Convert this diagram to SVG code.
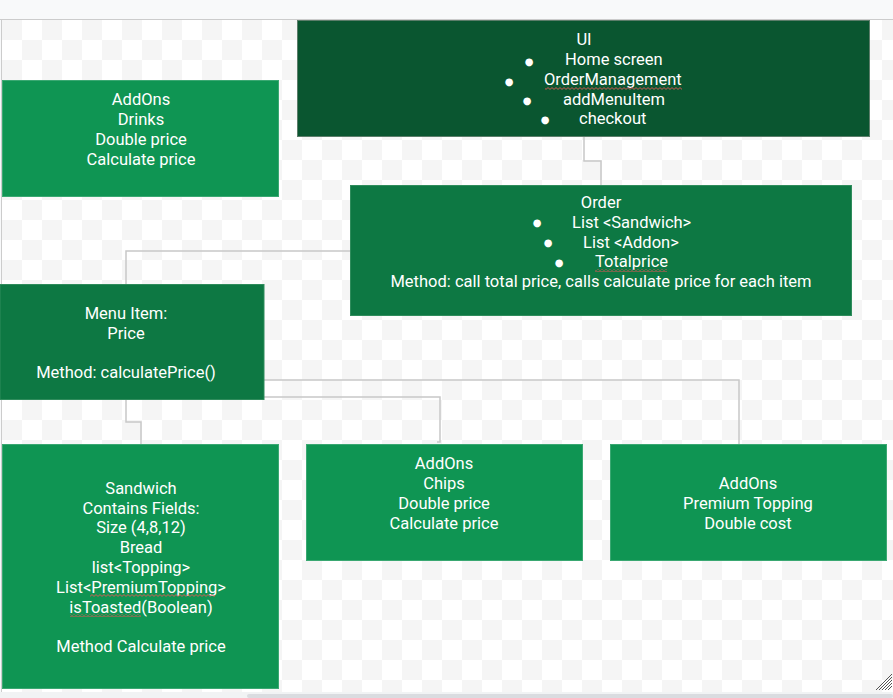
<svg xmlns="http://www.w3.org/2000/svg" width="893" height="698" viewBox="0 0 893 698">
<defs>
<pattern id="checker" x="2" y="20" width="40" height="40" patternUnits="userSpaceOnUse">
<rect width="40" height="40" fill="#ffffff"/>
<rect width="20" height="20" fill="#f5f5f5"/>
<rect x="20" y="20" width="20" height="20" fill="#f5f5f5"/>
</pattern>
<pattern id="wave" x="0" y="0" width="4" height="3" patternUnits="userSpaceOnUse">
<path d="M0,0.6 L2,2.4 L4,0.6" fill="none" stroke="#e05555" stroke-width="0.9"/>
</pattern>
</defs>
<style>
.t{font-family:Roboto,"Liberation Sans",sans-serif;font-size:16.5px;fill:#ffffff;text-anchor:middle}
.s{font-family:Roboto,"Liberation Sans",sans-serif;font-size:16.5px;fill:#ffffff}
.b{font-family:"DejaVu Sans",sans-serif;font-size:10px;fill:#ffffff;text-anchor:middle}
.light{fill:#0f9553;stroke:#3aa872;stroke-width:1}
.mid{fill:#0d7843;stroke:#2f8c5c;stroke-width:1}
.dark{fill:#0a5630;stroke:#5c7d6a;stroke-width:1}
.c{fill:none;stroke:#c8c8c8;stroke-width:1.5}
</style>
<rect width="893" height="698" fill="#f8f9fa"/>
<rect x="1" y="19" width="892" height="673" fill="url(#checker)"/>
<line x1="0" y1="19.5" x2="893" y2="19.5" stroke="#cccccc" stroke-width="1"/>
<line x1="1.5" y1="19" x2="1.5" y2="692" stroke="#cccccc" stroke-width="1"/>
<rect x="0" y="692" width="893" height="6" fill="#f1f3f4"/>
<rect x="247" y="694" width="646" height="4" rx="2" fill="#dadce0"/>

<g id="connectors">
<path class="c" d="M584,137 V161 H601 V185"/>
<path class="c" d="M350,251 H126 V284"/>
<path class="c" d="M126,400 V422 H141 V444"/>
<path class="c" d="M126,397 H440 V442 H437"/>
<path class="c" d="M251,380 H739 V459 H735"/>
</g>

<g id="ui">
<rect class="dark" x="297.5" y="20.5" width="572" height="116"/>
<text class="t" x="584" y="45">UI</text>
<text class="b" x="529" y="64.5">●</text><text class="s" x="565" y="65">Home screen</text>
<text class="b" x="509" y="84.5">●</text><text class="s" x="544" y="85">OrderManagement</text>
<rect x="545" y="87" width="137" height="3" fill="url(#wave)"/>
<text class="b" x="527" y="103.5">●</text><text class="s" x="563" y="105">addMenuItem</text>
<text class="b" x="545" y="123">●</text><text class="s" x="579" y="124">checkout</text>
</g>

<g id="drinks">
<rect class="light" x="2.5" y="80.5" width="276" height="116"/>
<text class="t" x="141" y="105">AddOns</text>
<text class="t" x="141" y="125">Drinks</text>
<text class="t" x="141" y="145">Double price</text>
<text class="t" x="141" y="165">Calculate price</text>
</g>

<g id="order">
<rect class="mid" x="350.5" y="185.5" width="501" height="130"/>
<text class="t" x="601" y="208">Order</text>
<text class="b" x="537" y="225.5">●</text><text class="s" x="572" y="228">List &lt;Sandwich&gt;</text>
<text class="b" x="548" y="245.5">●</text><text class="s" x="583" y="248">List &lt;Addon&gt;</text>
<text class="b" x="559" y="265.5">●</text><text class="s" x="595" y="267">Totalprice</text>
<rect x="595" y="269" width="72" height="3" fill="url(#wave)"/>
<text class="t" x="601" y="287">Method: call total price, calls calculate price for each item</text>
</g>

<g id="menuitem">
<rect class="mid" x="0" y="284.5" width="264" height="115"/>
<text class="t" x="126" y="319">Menu Item:</text>
<text class="t" x="126" y="339">Price</text>
<text class="t" x="126" y="378">Method: calculatePrice()</text>
</g>

<g id="sandwich">
<rect class="light" x="2.5" y="444.5" width="276" height="244"/>
<text class="t" x="141" y="494">Sandwich</text>
<text class="t" x="141" y="514">Contains Fields:</text>
<text class="t" x="141" y="533">Size (4,8,12)</text>
<text class="t" x="141" y="553">Bread</text>
<text class="t" x="141" y="573">list&lt;Topping&gt;</text>
<text class="t" x="141" y="593">List&lt;PremiumTopping&gt;</text>
<rect x="90" y="594" width="125" height="3" fill="url(#wave)"/>
<text class="t" x="141" y="613">isToasted(Boolean)</text>
<rect x="70" y="614" width="71" height="3" fill="url(#wave)"/>
<text class="t" x="141" y="652">Method Calculate price</text>
</g>

<g id="chips">
<rect class="light" x="306.5" y="444.5" width="276" height="116"/>
<text class="t" x="444" y="469">AddOns</text>
<text class="t" x="444" y="489">Chips</text>
<text class="t" x="444" y="509">Double price</text>
<text class="t" x="444" y="529">Calculate price</text>
</g>

<g id="premium">
<rect class="light" x="610.5" y="444.5" width="276" height="116"/>
<text class="t" x="748" y="489">AddOns</text>
<text class="t" x="748" y="509">Premium Topping</text>
<text class="t" x="748" y="529">Double cost</text>
</g>

<g id="handle" stroke="#555" stroke-width="1">
<line x1="876" y1="690" x2="892" y2="674"/>
<line x1="879" y1="690" x2="892" y2="677"/>
<line x1="882" y1="690" x2="892" y2="680"/>
<line x1="885" y1="690" x2="892" y2="683"/>
<line x1="888" y1="690" x2="892" y2="686"/>
</g>
</svg>
